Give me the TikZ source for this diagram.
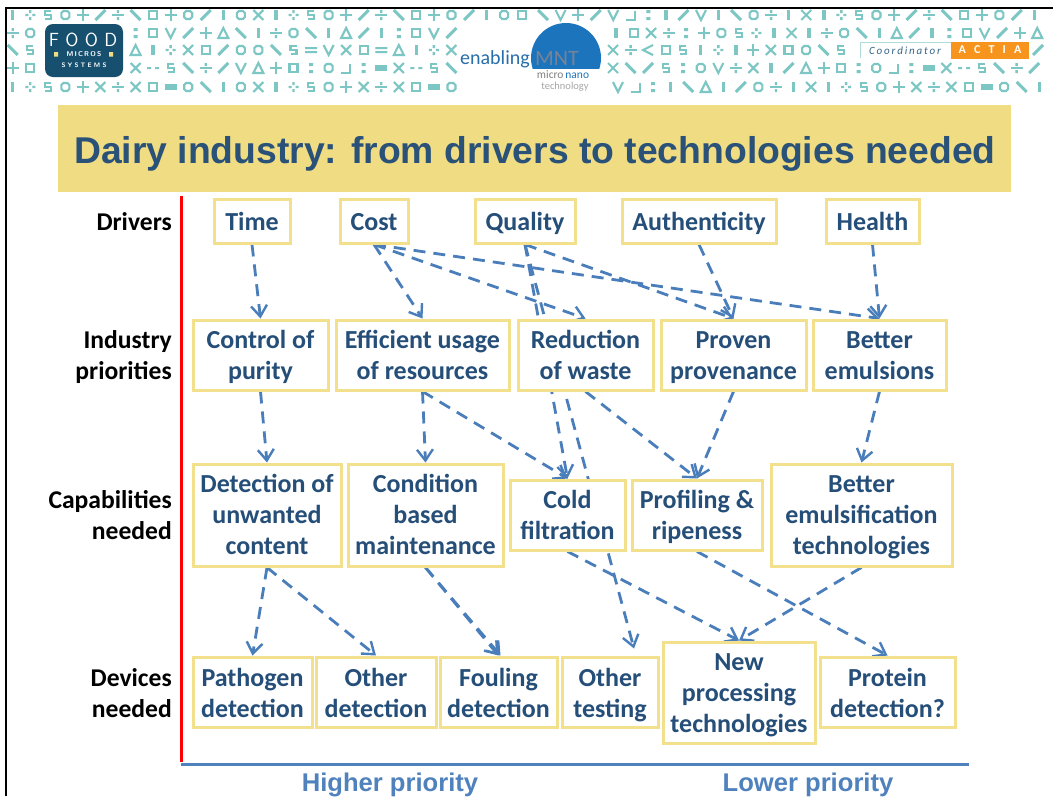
\documentclass[tikz,border=0pt]{standalone}
\usepackage{fontspec}
\setmainfont{Carlito}
\newfontfamily\arialf{Liberation Sans}
\usetikzlibrary{arrows.meta,backgrounds}
\definecolor{band}{HTML}{F0DC82}
\definecolor{boxl}{HTML}{F3E08C}
\definecolor{txtb}{HTML}{254E78}
\definecolor{titleb}{HTML}{2A5279}
\definecolor{arrb}{HTML}{4A7EBB}
\definecolor{prio}{HTML}{4F81BD}
\definecolor{teal}{HTML}{7CC6C3}
\definecolor{foodc}{RGB}{23,80,111}
\definecolor{mntc}{RGB}{28,117,188}
\definecolor{enabc}{RGB}{40,110,170}
\definecolor{mntg}{RGB}{120,130,150}
\definecolor{orangec}{RGB}{247,148,30}
\definecolor{foody}{RGB}{240,220,130}
\newcommand{\st}{\rule[-7pt]{0pt}{31pt}}
\newcommand{\sd}{\rule[-6pt]{0pt}{31pt}}
\tikzset{
 bx/.style={draw=boxl,line width=3pt,fill=white,inner sep=0pt,align=center,text=txtb,font=\fontsize{26}{31}\selectfont\bfseries},
 lab/.style={inner sep=0pt,anchor=east,align=right,text=black,font=\fontsize{25.6}{31}\selectfont\bfseries},
 arr/.style={draw=arrb,line width=2.8pt,dash pattern=on 12pt off 8pt,-{Straight Barb[length=11pt,width=16pt,line width=2.4pt]}},
 gl/.style={draw=teal,line width=2.1pt},
 plain/.style={inner sep=0pt},
}
\def\zga{\draw[gl,line width=3.4pt](0,-5)--(0,5);}
\def\zgb{\fill[teal](-5,-1.2)rectangle(-2,1.2)(2,-1.2)rectangle(5,1.2)(-1.2,-5)rectangle(1.2,-2)(-1.2,2)rectangle(1.2,5);}
\def\zgc{\draw[gl](3,-4)--(-3,-4)--(-3,0)--(3,0)--(3,4)--(-3,4);}
\def\zgd{\draw[gl](-2,-4)--(2,-4)--(4,-2)--(4,2)--(2,4)--(-2,4)--(-4,2)--(-4,-2)--cycle;}
\def\zge{\draw[gl](-6,0)--(6,0)(0,-6)--(0,6);}
\def\zgf{\draw[gl,line width=3pt](-5,5)--(5,-5);}
\def\zgg{\draw[gl](-6,0)--(6,0);\fill[teal](-1.2,-5)rectangle(1.2,-2)(-1.2,2)rectangle(1.2,5);}
\def\zgh{\draw[gl,line width=3pt](-5,-5)--(5,5);}
\def\zgi{\draw[gl](-4,-4)rectangle(4,4);}
\def\zgj{\draw[gl](0,-5)--(5,5)--(-5,5)--cycle;}
\def\zgk{\draw[gl](-5,-5)--(0,5)--(5,-5);}
\def\zgl{\fill[teal](-2,-5)rectangle(2,-2)(-2,2)rectangle(2,5);}
\def\zgm{\draw[gl](-5,-5)--(5,5)(-5,5)--(5,-5);}
\def\zgn{}
\def\zgo{\fill[teal](-6,-3)rectangle(6,3);}
\def\zgp{\draw[gl](-5,5)--(4,5)--(4,-4);}
\def\zgq{\draw[gl](5,-5)--(-5,0)--(5,5);}
\def\zgr{\fill[teal](-6,-1)rectangle(-2,1)(2,-1)rectangle(6,1);}
\def\zgs{\fill[teal](-6,-3)rectangle(6,-1)(-6,1)rectangle(6,3);}
\newcommand{\glyphrow}[3]{\foreach \g [count=\ii from 0] in {#3}{\begin{scope}[shift={({#1+17.55*\ii},#2)}]\csname zg\g\endcsname\end{scope}}}
\begin{document}
\begin{tikzpicture}[x=1pt,y=-1pt]
\useasboundingbox (0,0) rectangle (1053,796);
% slide frame
\draw[black,line width=2.6pt] (6,796)--(6,8)--(1053,8);
% header glyphs
\glyphrow{12.7}{15}{a,b,c,d,e,f,g,h,i,e,d,f,a,d,m,a,b,c,d,e,f,g,h,i,e,d,f,a,d,i}
\glyphrow{543}{15}{h,k,e,f,k,p,l,a,f,k,a,h,d,g,a,m,a,b,c,d,e,f,g,h,i,e,d,f,a}
\glyphrow{12.7}{33}{g,d,n,n,n,n,n,l,i,k,f,e,j,h,a,g,d,h,a,j,f,a,l,i,k,f}
\glyphrow{616}{33}{a,i,m,g,l,e,d,c,b,a,m,a,g,d,h,a,j,f,a,l,i,k,f,e,j}
\glyphrow{12.7}{50}{h,c,n,n,n,n,n,j,a,b,m,i,f,d,d,h,c,s,k,m,i,s,j,a,b,m}
\glyphrow{613}{50}{m,g,q,i,c,a,b,a,e,m,i,d,h,c}
\glyphrow{1038}{50}{f}
\glyphrow{12.7}{68}{e,i,n,n,n,n,n,m,r,c,h,g,f,k,j,e,i,l,d,p,l,o,m,r,c,h}
\glyphrow{613}{68}{m,h,f,c,l,d,k,g,m,a,f,j,e,i,l,d,p,l,o,m,r,c,h,g,f}
\glyphrow{12.7}{87}{a,b,c,d,e,m,g,m,i,o,d,h,a,d,m,a,b,c,d,e,m,g,m,i,o,d}
\glyphrow{618}{87}{k,p,l,a,h,j,a,f,d,g,a,m,a,b,c,d,e,m,g,m,i,o,d,h,a}
% FOOD logo
\node[plain,fill=foodc,rounded corners=8pt,minimum width=78pt,minimum height=53pt] (foodlogo) at (84,50.5) {};
\node[plain,text=white,font=\fontsize{19}{19}\selectfont\sffamily] (foodt) at (83,40) {F\,\,O\,\,O\,\,D};
\node[plain,text=white,font=\fontsize{7}{7}\selectfont\sffamily\bfseries] (micros) at (84,54) {M\,I\,C\,R\,O\,S};
\fill[foody] (54,52) rectangle (58,56.5) (109,52) rectangle (113,56.5);
\node[plain,text=white,font=\fontsize{6.5}{6.5}\selectfont\sffamily\bfseries] (systems) at (84,65) {S\,\,Y\,\,S\,\,T\,\,E\,\,M\,\,S};
% MNT logo
\begin{scope}
\clip (520,20) rectangle (605,68);
\fill[mntc] (566,58) circle (35);
\end{scope}
\node[plain,text=enabc,font=\fontsize{20}{20}\selectfont] (enabling) at (495,59) {enabling};
\node[plain,text=mntg,font=\fontsize{22}{16}\selectfont] (mnt) at (557,58) {MNT};
\node[plain,text=gray,font=\fontsize{11.5}{9}\selectfont] (mn) at (563,75) {micro\,{\color{mntc}nano}};
\node[plain,text=gray!70,font=\fontsize{10.5}{8}\selectfont] (techn) at (565,87) {technology};
% coordinator
\draw[teal!60,line width=1pt] (860,58)--(860,42)--(951,42);
\node[plain,fill=orangec,minimum width=78pt,minimum height=17pt,text=white,font=\fontsize{12}{12}\selectfont\bfseries] (actia) at (990,50) {A\ \ \ C\ \ \ T\ \ \ I\ \ \ A};
\node[plain,text=txtb!80!teal,font=\fontsize{11}{11}\selectfont\itshape] (coord) at (905,51) {C\,o\,o\,r\,d\,i\,n\,a\,t\,o\,r};
% title band
\node[plain,fill=band,minimum width=953pt,minimum height=87pt] (titleband) at (534.5,148.5) {};
\node[plain,text=titleb,font=\fontsize{37.3}{40}\selectfont\arialf\bfseries] (title) at (535,154) {Dairy industry: from drivers to technologies needed};
% axis lines
\coordinate (rt) at (181,196);
\coordinate (rb) at (181,762);
\coordinate (bl) at (181,764);
\coordinate (br) at (969,764);
\draw[red,line width=3pt] (rt)--(rb);
\draw[prio,line width=3pt] (bl)--(br);
% row labels
\node[lab] (l1) at (172,222) {\st Drivers};
\node[lab] (l2) at (172,355.5) {\st Industry\\\st priorities};
\node[lab] (l3) at (172,515.5) {\st Capabilities\\\st needed};
\node[lab] (l4) at (172,693.5) {\st Devices\\\st needed};
% drivers
\node[bx,minimum width=76pt,minimum height=44pt] (time) at (252,221) {\sd Time};
\node[bx,minimum width=68pt,minimum height=44pt] (cost) at (374,221) {\sd Cost};
\node[bx,minimum width=100pt,minimum height=44pt] (quality) at (525,221) {\sd Quality};
\node[bx,minimum width=154pt,minimum height=44pt] (auth) at (699,221) {\sd Authenticity};
\node[bx,minimum width=93pt,minimum height=44pt] (health) at (872.5,221) {\sd Health};
% priorities
\node[bx,minimum width=135pt,minimum height=70pt] (purity) at (260.5,355) {\st Control of\\\st purity};
\node[bx,minimum width=173pt,minimum height=70pt] (effic) at (422.5,355) {\st Efficient usage\\\st of resources};
\node[bx,minimum width=135pt,minimum height=70pt] (waste) at (585.5,355) {\st Reduction\\\st of waste};
\node[bx,minimum width=145pt,minimum height=70pt] (proven) at (733.5,355) {\st Proven\\\st provenance};
\node[bx,minimum width=133pt,minimum height=70pt] (emul) at (879.5,355) {\st Better\\\st emulsions};
% capabilities
\node[bx,minimum width=148pt,minimum height=102pt] (detect) at (267,515) {\st Detection of\\\st unwanted\\\st content};
\node[bx,minimum width=155pt,minimum height=102pt] (cond) at (425.5,515) {\st Condition\\\st based\\\st maintenance};
\node[bx,minimum width=115pt,minimum height=70pt] (cold) at (567.5,515) {\st Cold\\\st filtration};
\node[bx,minimum width=130pt,minimum height=70pt] (prof) at (697,515) {\st Profiling \&\\\st ripeness};
\node[bx,minimum width=181pt,minimum height=102pt] (emtech) at (861.5,515) {\st Better\\\st emulsification\\\st technologies};
% devices
\node[bx,minimum width=119pt,minimum height=70pt] (patho) at (252.5,692) {\sd Pathogen\\\sd detection};
\node[bx,minimum width=120pt,minimum height=70pt] (odet) at (376,692) {\sd Other\\\sd detection};
\node[bx,minimum width=117pt,minimum height=70pt] (foul) at (498.5,692) {\sd Fouling\\\sd detection};
\node[bx,minimum width=96pt,minimum height=70pt] (otest) at (610,692) {\sd Other\\\sd testing};
\node[bx,minimum width=152pt,minimum height=101pt] (newp) at (739,692.5) {\st New\\\st processing\\\st technologies};
\node[bx,minimum width=135pt,minimum height=70pt] (prot) at (887.5,692) {\sd Protein\\\sd detection?};
% priorities text
\node[plain,text=prio,font=\fontsize{25.6}{25.6}\selectfont\arialf\bfseries] (hp) at (390,785) {Higher priority};
\node[plain,text=prio,font=\fontsize{25.6}{25.6}\selectfont\arialf\bfseries] (lp) at (808,785) {Lower priority};
% connectors, behind the boxes
\begin{pgfonlayer}{background}
\fill[white] (0,0) rectangle (1053,796);
\draw[arr] (time.south)--(purity.north);
\draw[arr] (cost.south)--(effic.north);
\draw[arr] (cost.south)--(waste.north);
\draw[arr] (cost.south)--(emul.north);
\draw[arr] (quality.south)--(proven.north);
\draw[arr] (quality.south)--(cold.north);
\draw[arr] (quality.south)--([shift={(24,-7)}]otest.north);
\draw[arr] (auth.south)--(proven.north);
\draw[arr] (health.south)--(emul.north);
\draw[arr] (purity.south)--(detect.north);
\draw[arr] (effic.south)--(cond.north);
\draw[arr] (effic.south)--(cold.north);
\draw[arr] (waste.south)--(prof.north);
\draw[arr] (proven.south)--(prof.north);
\draw[arr] (emul.south)--(emtech.north);
\draw[arr] (detect.south)--(patho.north);
\draw[arr] (detect.south)--(odet.north);
\draw[arr] (cond.south)--(foul.north);
\draw[arr] (cond.south)--([xshift=2pt]foul.north);
\draw[arr] (cold.south)--(newp.north);
\draw[arr] (prof.south)--(prot.north);
\draw[arr] (emtech.south)--(newp.north);
\end{pgfonlayer}
\end{tikzpicture}
\end{document}
